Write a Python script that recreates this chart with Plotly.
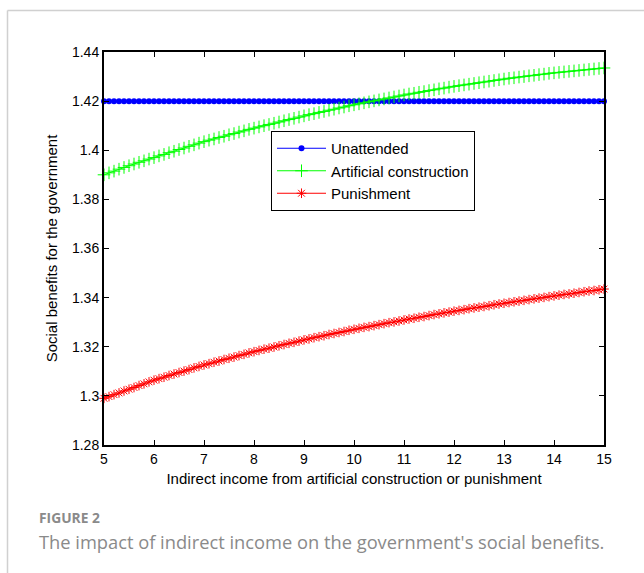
import numpy as np
import plotly.graph_objects as go

# Indirect income grid (5 to 15, step 0.1)
income = np.round(np.arange(5.0, 15.0001, 0.1), 1)

# Social benefits for the government under each strategy
unattended = [1.42] * len(income)

artificial_construction = [
    1.3900, 1.3908, 1.3915, 1.3923, 1.3930, 1.3937, 1.3944, 1.3951, 1.3957, 1.3964,
    1.3970, 1.3977, 1.3983, 1.3990, 1.3996, 1.4003, 1.4009, 1.4016, 1.4022, 1.4029,
    1.4035, 1.4041, 1.4046, 1.4052, 1.4057, 1.4063, 1.4068, 1.4074, 1.4079, 1.4085,
    1.4090, 1.4095, 1.4100, 1.4105, 1.4110, 1.4115, 1.4120, 1.4125, 1.4130, 1.4135,
    1.4140, 1.4145, 1.4149, 1.4154, 1.4158, 1.4163, 1.4167, 1.4172, 1.4176, 1.4181,
    1.4185, 1.4189, 1.4193, 1.4197, 1.4201, 1.4205, 1.4209, 1.4213, 1.4217, 1.4221,
    1.4225, 1.4229, 1.4232, 1.4236, 1.4239, 1.4243, 1.4246, 1.4250, 1.4253, 1.4257,
    1.4260, 1.4263, 1.4266, 1.4269, 1.4272, 1.4275, 1.4278, 1.4281, 1.4284, 1.4287,
    1.4290, 1.4293, 1.4295, 1.4298, 1.4300, 1.4303, 1.4305, 1.4308, 1.4310, 1.4313,
    1.4315, 1.4317, 1.4319, 1.4321, 1.4323, 1.4325, 1.4327, 1.4329, 1.4331, 1.4333,
    1.4335,
]

punishment = [
    1.2990, 1.2997, 1.3005, 1.3012, 1.3020, 1.3027, 1.3034, 1.3042, 1.3049, 1.3057,
    1.3064, 1.3070, 1.3076, 1.3083, 1.3089, 1.3095, 1.3101, 1.3107, 1.3114, 1.3120,
    1.3126, 1.3131, 1.3137, 1.3142, 1.3148, 1.3153, 1.3158, 1.3164, 1.3169, 1.3175,
    1.3180, 1.3185, 1.3190, 1.3194, 1.3199, 1.3204, 1.3209, 1.3214, 1.3218, 1.3223,
    1.3228, 1.3232, 1.3237, 1.3241, 1.3245, 1.3250, 1.3254, 1.3258, 1.3262, 1.3267,
    1.3271, 1.3275, 1.3279, 1.3282, 1.3286, 1.3290, 1.3294, 1.3298, 1.3301, 1.3305,
    1.3309, 1.3313, 1.3316, 1.3320, 1.3323, 1.3327, 1.3331, 1.3334, 1.3338, 1.3341,
    1.3345, 1.3348, 1.3351, 1.3355, 1.3358, 1.3361, 1.3364, 1.3367, 1.3371, 1.3374,
    1.3377, 1.3380, 1.3383, 1.3386, 1.3389, 1.3392, 1.3395, 1.3398, 1.3401, 1.3404,
    1.3407, 1.3410, 1.3413, 1.3415, 1.3418, 1.3421, 1.3424, 1.3427, 1.3429, 1.3432,
    1.3435,
]

x_ticks = list(range(5, 16))
y_ticks = [1.28, 1.30, 1.32, 1.34, 1.36, 1.38, 1.40, 1.42, 1.44]

FAMILY = "Liberation Sans, Arial, sans-serif"
TICK_FONT = dict(family=FAMILY, size=14, color="black")
TITLE_FONT = dict(family=FAMILY, size=15, color="black")

fig = go.Figure()

fig.add_trace(go.Scatter(
    x=income, y=unattended, name="Unattended", mode="lines+markers",
    line=dict(color="#0000ff", width=1),
    marker=dict(symbol="circle", size=6, color="#0000ff", line=dict(width=0)),
    cliponaxis=False,
))
fig.add_trace(go.Scatter(
    x=income, y=artificial_construction, name="Artificial construction",
    mode="lines+markers",
    line=dict(color="#00ff00", width=1),
    marker=dict(symbol="cross-thin", size=9, color="#00ff00",
                line=dict(color="#00ff00", width=1)),
    cliponaxis=False,
))
fig.add_trace(go.Scatter(
    x=income, y=punishment, name="Punishment", mode="lines+markers",
    line=dict(color="#ff0000", width=1),
    marker=dict(symbol="asterisk", size=8, color="#ff0000",
                line=dict(color="#ff0000", width=1)),
    cliponaxis=False,
))

# Plot area runs from x=104 to 604 px and y=52 to 445 px
L, R, T, B = 104, 40, 52, 128
W, H = 644, 573
pw, ph = W - L - R, H - T - B


def px_x(p):
    return (p - L) / pw


def px_y(p):
    return (H - B - p) / ph


axis_common = dict(
    showgrid=False, zeroline=False,
    showline=True, linecolor="black", linewidth=2,
    mirror="ticks", ticks="inside", ticklen=5, tickwidth=1, tickcolor="black",
    tickfont=TICK_FONT,
)

fig.update_xaxes(
    range=[5, 15], tickvals=x_ticks,
    title=dict(text="Indirect income from artificial construction or punishment",
               font=TITLE_FONT, standoff=8),
    **axis_common,
)
fig.update_yaxes(
    range=[1.28, 1.44], tickvals=y_ticks,
    ticktext=["1.28", "1.3", "1.32", "1.34", "1.36", "1.38", "1.4", "1.42", "1.44"],
    title=dict(text="Social benefits for the government", font=TITLE_FONT, standoff=11),
    **axis_common,
)

fig.update_layout(
    width=W, height=H,
    margin=dict(l=L, r=R, t=T, b=B, autoexpand=False),
    paper_bgcolor="white", plot_bgcolor="white",
    showlegend=True,
    legend=dict(
        x=px_x(271), y=px_y(131), xanchor="left", yanchor="top",
        bgcolor="white", bordercolor="black", borderwidth=1,
        font=TITLE_FONT, tracegroupgap=0, itemwidth=49,
    ),
    shapes=[
        dict(type="line", xref="paper", yref="paper",
             x0=px_x(7.5), x1=px_x(650), y0=px_y(10.5), y1=px_y(10.5),
             line=dict(color="#d0d0d0", width=1.5)),
        dict(type="line", xref="paper", yref="paper",
             x0=px_x(7.5), x1=px_x(7.5), y0=px_y(10.5), y1=px_y(580),
             line=dict(color="#d0d0d0", width=1.5)),
    ],
    annotations=[
        dict(text="<b>FIGURE 2</b>", xref="paper", yref="paper",
             x=px_x(37), y=px_y(517), xanchor="left", yanchor="middle",
             showarrow=False,
             font=dict(family="Open Sans, sans-serif", size=13.8, color="#8a8a8a")),
        dict(text="The impact of indirect income on the government's social benefits.",
             xref="paper", yref="paper",
             x=px_x(37), y=px_y(541), xanchor="left", yanchor="middle",
             showarrow=False,
             font=dict(family="Open Sans, sans-serif", size=18.3, color="#8a8a8a")),
    ],
)

fig.write_html("out.html")
